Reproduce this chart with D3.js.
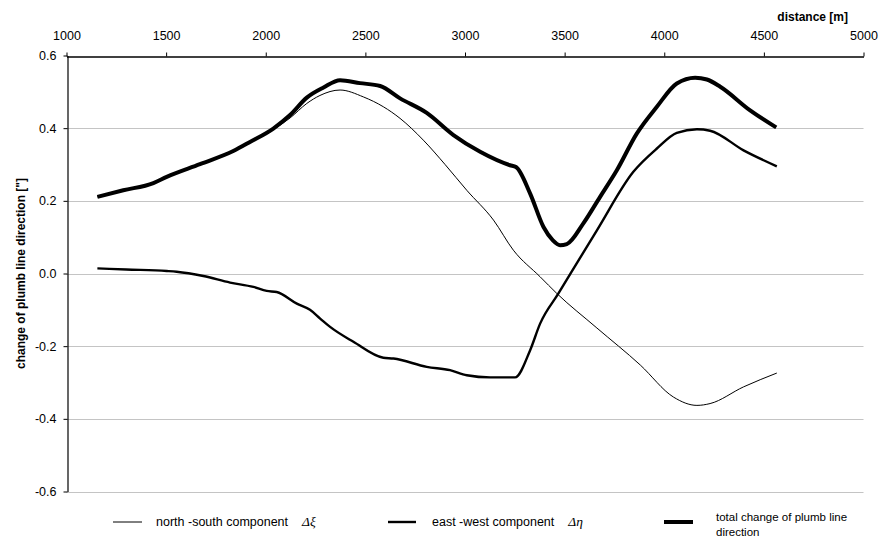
<!DOCTYPE html>
<html>
<head>
<meta charset="utf-8">
<script src="https://cdn.jsdelivr.net/npm/d3@7"></script>
<style>
  html, body { margin: 0; padding: 0; background: #fff; }
  svg { display: block; font-family: "Liberation Sans", Arial, sans-serif; }
</style>
</head>
<body>
<svg id="chart" width="881" height="546"></svg>
<script>
// Distance axis ticks and value axis ticks
const xTicks = [1000, 1500, 2000, 2500, 3000, 3500, 4000, 4500, 5000];
const yTicks = [0.6, 0.4, 0.2, 0.0, -0.2, -0.4, -0.6];

// North-south component Δξ
const nsDistance = [1155, 1285, 1436, 1503, 1670, 1837, 1921, 2038, 2122, 2206, 2272, 2373, 2490, 2590, 2674, 2791, 2900, 3009, 3143, 3243, 3377, 3461, 3662, 3880, 4046, 4164, 4230, 4398, 4565];
const nsValue    = [0.211, 0.229, 0.249, 0.266, 0.300, 0.336, 0.360, 0.396, 0.428, 0.468, 0.490, 0.505, 0.486, 0.459, 0.427, 0.367, 0.300, 0.229, 0.147, 0.064, -0.009, -0.055, -0.150, -0.252, -0.340, -0.363, -0.358, -0.312, -0.274];

// East-west component Δη
const ewDistance = [1155, 1300, 1503, 1553, 1687, 1821, 1938, 2005, 2055, 2156, 2222, 2273, 2323, 2440, 2590, 2641, 2808, 2925, 3009, 3126, 3251, 3327, 3377, 3469, 3662, 3845, 3963, 4063, 4164, 4230, 4398, 4565];
const ewValue    = [0.014, 0.011, 0.007, 0.005, -0.007, -0.025, -0.037, -0.048, -0.051, -0.083, -0.100, -0.124, -0.147, -0.188, -0.232, -0.234, -0.257, -0.266, -0.280, -0.286, -0.286, -0.211, -0.138, -0.055, 0.119, 0.280, 0.344, 0.387, 0.397, 0.393, 0.339, 0.295];

// Total change of plumb line direction
const totDistance = [1155, 1285, 1436, 1503, 1670, 1837, 1921, 2038, 2122, 2206, 2290, 2373, 2473, 2574, 2674, 2808, 2942, 3076, 3226, 3256, 3327, 3394, 3440, 3477, 3511, 3594, 3678, 3762, 3862, 3963, 4063, 4155, 4214, 4281, 4431, 4562];
const totValue    = [0.211, 0.229, 0.249, 0.266, 0.301, 0.337, 0.362, 0.399, 0.436, 0.484, 0.512, 0.532, 0.524, 0.516, 0.482, 0.442, 0.381, 0.335, 0.298, 0.293, 0.220, 0.128, 0.092, 0.078, 0.081, 0.138, 0.211, 0.284, 0.385, 0.459, 0.523, 0.539, 0.534, 0.514, 0.449, 0.402];

const legendLabels = ["north -south component", "east -west component", "total change of plumb line", "direction"];

const svg = d3.select("#chart");
svg.append("rect").attr("width", 881).attr("height", 546).attr("fill", "#fff");

const x = d3.scaleLinear().domain([1000, 5000]).range([66.5, 863.5]);
const y = d3.scaleLinear().domain([-0.6, 0.6]).range([491.5, 55.5]);

// horizontal gridlines
svg.append("g")
  .selectAll("line")
  .data(yTicks.filter(d => d < 0.6))
  .join("line")
  .attr("x1", x(1000)).attr("x2", x(5000))
  .attr("y1", d => Math.round(y(d)) + 0.5).attr("y2", d => Math.round(y(d)) + 0.5)
  .attr("stroke", "#c4c4c4").attr("stroke-width", 1.2);

// top distance axis
const xAxis = svg.append("g")
  .attr("transform", `translate(0,${Math.round(y(0.6)) + 0.5})`)
  .call(d3.axisTop(x).tickValues(xTicks).tickFormat(d3.format("d")).tickSize(4).tickSizeOuter(0));
xAxis.select(".domain").attr("stroke", "#000").attr("stroke-width", 1.3);
xAxis.selectAll(".tick line").attr("stroke", "#000");
xAxis.selectAll(".tick text").attr("font-size", 12.5).attr("fill", "#000")
  .attr("font-family", "'Liberation Sans', Arial, sans-serif").attr("dy", "-9.5");

// left value axis (plain hyphen for negative numbers)
const yFmt = d3.format(".1f");
const yAxis = svg.append("g")
  .attr("transform", `translate(${Math.round(x(1000)) + 0.5},0)`)
  .call(d3.axisLeft(y).tickValues(yTicks).tickFormat(d => yFmt(d).replace("\u2212", "-")).tickSize(4).tickSizeOuter(0));
yAxis.select(".domain").attr("stroke", "#000").attr("stroke-width", 1.2);
yAxis.selectAll(".tick line").attr("stroke", "#000");
yAxis.selectAll(".tick text").attr("font-size", 12.5).attr("fill", "#000")
  .attr("font-family", "'Liberation Sans', Arial, sans-serif").attr("dx", "-4");

// axis titles
svg.append("text")
  .attr("x", 848).attr("y", 21)
  .attr("text-anchor", "end")
  .attr("font-size", 12).attr("font-weight", "bold")
  .text("distance [m]");

svg.append("text")
  .attr("transform", `translate(25,${y(0)}) rotate(-90)`)
  .attr("text-anchor", "middle")
  .attr("font-size", 12).attr("font-weight", "bold")
  .text("change of plumb line direction [\"]");

// series lines
const line = d3.line().x(d => x(d[0])).y(d => y(d[1])).curve(d3.curveMonotoneX);
const series = [
  { dist: nsDistance, val: nsValue, width: 1 },
  { dist: ewDistance, val: ewValue, width: 2.4 },
  { dist: totDistance, val: totValue, width: 4 }
];
svg.append("g")
  .selectAll("path")
  .data(series)
  .join("path")
  .attr("d", s => line(s.dist.map((d, i) => [d, s.val[i]])))
  .attr("fill", "none")
  .attr("stroke", "#000")
  .attr("stroke-linejoin", "round")
  .attr("stroke-linecap", "butt")
  .attr("stroke-width", s => s.width);

// legend
const legY = 522;
const leg = svg.append("g");
leg.append("line").attr("x1", 113).attr("x2", 142).attr("y1", legY).attr("y2", legY)
  .attr("stroke", "#000").attr("stroke-width", 1);
const t1 = leg.append("text").attr("x", 156).attr("y", legY + 4).attr("font-size", 12.5);
t1.append("tspan").text(legendLabels[0]);
t1.append("tspan").attr("dx", 14).attr("font-family", "'Liberation Serif', 'Times New Roman', serif")
  .attr("font-style", "italic").attr("font-size", 13.5).text("Δξ");

leg.append("line").attr("x1", 388).attr("x2", 416).attr("y1", legY).attr("y2", legY)
  .attr("stroke", "#000").attr("stroke-width", 2.4);
const t2 = leg.append("text").attr("x", 432).attr("y", legY + 4).attr("font-size", 12.5);
t2.append("tspan").text(legendLabels[1]);
t2.append("tspan").attr("dx", 14).attr("font-family", "'Liberation Serif', 'Times New Roman', serif")
  .attr("font-style", "italic").attr("font-size", 13.5).text("Δη");

leg.append("line").attr("x1", 664).attr("x2", 693).attr("y1", legY).attr("y2", legY)
  .attr("stroke", "#000").attr("stroke-width", 4);
leg.append("text").attr("x", 716).attr("y", legY - 1).attr("font-size", 11.5).text(legendLabels[2]);
leg.append("text").attr("x", 716).attr("y", legY + 14).attr("font-size", 11.5).text(legendLabels[3]);
</script>
</body>
</html>
